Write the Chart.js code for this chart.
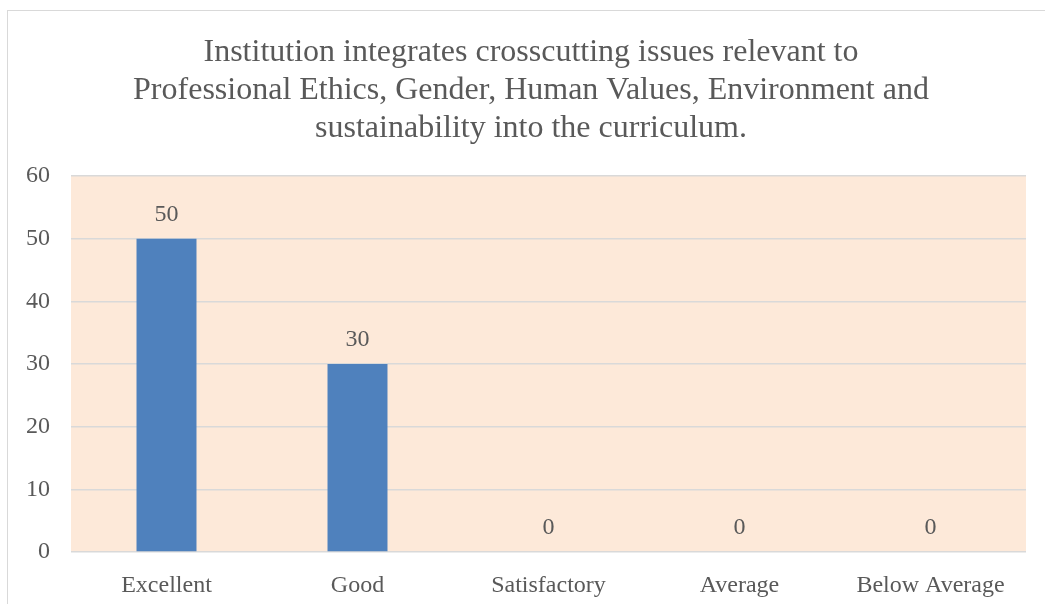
<!DOCTYPE html>
<html lang="en">
<head>
    <meta charset="UTF-8">
    <title>Crosscutting issues chart</title>
    <script src="https://cdn.jsdelivr.net/npm/chart.js"></script>
    <style>
        html, body { margin: 0; padding: 0; background: #ffffff; overflow: hidden; }
        .chart-box {
            position: absolute;
            left: 7px;
            top: 10px;
            width: 1100px;
            height: 640px;
            border: 1.5px solid #d9d9d9;
            box-sizing: border-box;
        }
        .chart-box canvas { position: absolute; left: 0; top: 0; }
    </style>
</head>
<body>
    <div class="chart-box">
        <canvas id="feedbackChart" width="1046" height="593"></canvas>
    </div>

    <script>
        // Chart data
        const categories = ['Excellent', 'Good', 'Satisfactory', 'Average', 'Below Average'];
        const responses = [50, 30, 0, 0, 0];
        const titleLines = [
            'Institution integrates crosscutting issues relevant to',
            'Professional Ethics, Gender, Human Values, Environment and',
            'sustainability into the curriculum.'
        ];

        const textColor = '#595959';
        const serif = '"Liberation Serif", "Times New Roman", serif';

        // Peach plot background
        const plotBackground = {
            id: 'plotBackground',
            beforeDraw(chart) {
                const { ctx, chartArea } = chart;
                ctx.save();
                ctx.fillStyle = '#fde9d9';
                ctx.fillRect(chartArea.left, chartArea.top, chartArea.width, chartArea.height);
                ctx.restore();
            }
        };

        // Value labels above each bar
        const valueLabels = {
            id: 'valueLabels',
            afterDatasetsDraw(chart) {
                const { ctx } = chart;
                const meta = chart.getDatasetMeta(0);
                ctx.save();
                ctx.fillStyle = textColor;
                ctx.font = '24px ' + serif;
                ctx.textAlign = 'center';
                ctx.textBaseline = 'middle';
                meta.data.forEach((bar, i) => {
                    ctx.fillText(String(responses[i]), bar.x, bar.y - 24);
                });
                ctx.restore();
            }
        };

        const ctx = document.getElementById('feedbackChart').getContext('2d');
        new Chart(ctx, {
            type: 'bar',
            data: {
                labels: categories,
                datasets: [{
                    data: responses,
                    backgroundColor: '#4f81bd',
                    categoryPercentage: 1,
                    barPercentage: 0.314
                }]
            },
            options: {
                responsive: false,
                animation: false,
                layout: { padding: 0 },
                plugins: {
                    legend: { display: false },
                    tooltip: { enabled: false },
                    title: {
                        display: true,
                        text: titleLines,
                        color: textColor,
                        font: { family: serif, size: 32, weight: 'normal', lineHeight: 38 / 32 },
                        padding: { top: 22.5, bottom: 28.5 }
                    }
                },
                scales: {
                    x: {
                        grid: { display: false },
                        border: { display: false },
                        ticks: {
                            color: textColor,
                            font: { family: serif, size: 24 },
                            padding: 11,
                            maxRotation: 0,
                            autoSkip: false
                        },
                        afterFit(scale) { scale.height = 52; }
                    },
                    y: {
                        min: 0,
                        max: 60,
                        ticks: {
                            stepSize: 10,
                            color: textColor,
                            font: { family: serif, size: 24 },
                            padding: 21
                        },
                        grid: {
                            color: '#d9d9d9',
                            lineWidth: 1.5,
                            drawTicks: false
                        },
                        border: { display: false },
                        afterFit(scale) { scale.width = 63; }
                    },
                    // empty right-hand spacer so the title stays centred on the whole box
                    yRight: {
                        position: 'right',
                        min: 0,
                        max: 60,
                        ticks: { display: false },
                        grid: { display: false },
                        border: { display: false },
                        afterFit(scale) { scale.width = 28; }
                    }
                }
            },
            plugins: [plotBackground, valueLabels]
        });
    </script>
</body>
</html>
